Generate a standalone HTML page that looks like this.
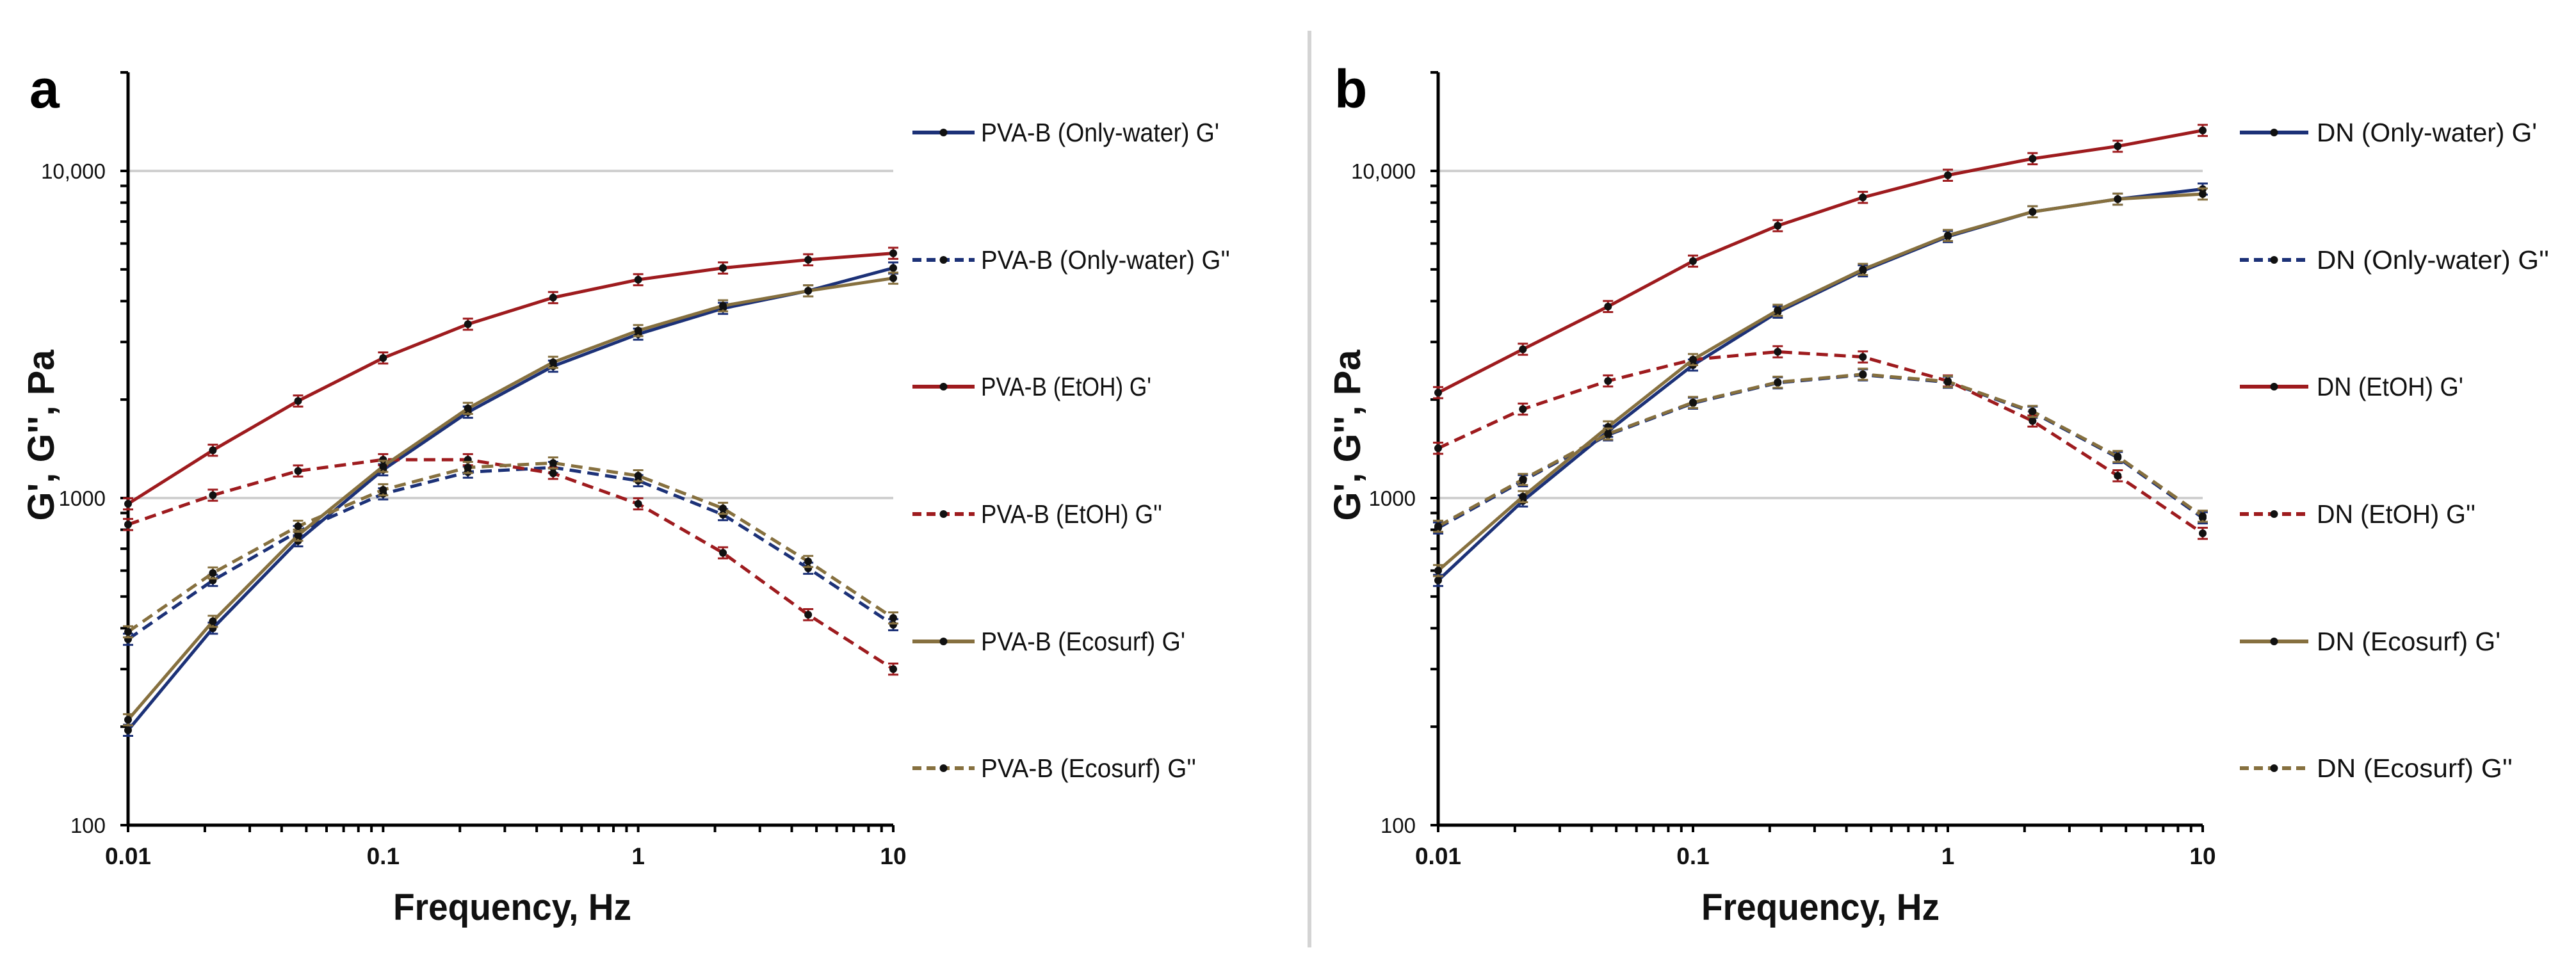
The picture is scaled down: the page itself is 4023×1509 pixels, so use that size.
<!DOCTYPE html>
<html><head><meta charset="utf-8">
<style>
html,body{margin:0;padding:0;background:#fff;}
svg{display:block;}
text{font-family:"Liberation Sans",sans-serif;}
</style></head>
<body>
<svg id="fig" width="4023" height="1509" viewBox="0 0 4023 1509" xmlns="http://www.w3.org/2000/svg">
<rect width="4023" height="1509" fill="#fff"/>
<line x1="2045" y1="48" x2="2045" y2="1480" stroke="#d4d4d4" stroke-width="6"/>
</svg>
<script>
const freqs = [0.01, 0.0215, 0.0464, 0.1, 0.215, 0.464, 1, 2.15, 4.64, 10];
const xTicks = [0.01, 0.1, 1, 10];
const xTickLabels = ["0.01", "0.1", "1", "10"];
const yTicks = [100, 1000, 10000];
const yTickLabels = ["100", "1000", "10,000"];

const aWaterGp  = [195, 400, 740, 1220, 1830, 2530, 3170, 3800, 4300, 5050];
const aWaterGpp = [370, 560, 790, 1030, 1200, 1240, 1130, 890, 610, 410];
const aEtohGp   = [960, 1400, 1980, 2680, 3400, 4100, 4650, 5050, 5350, 5600];
const aEtohGpp  = [830, 1020, 1210, 1310, 1310, 1190, 960, 680, 440, 300];
const aEcoGp    = [210, 420, 770, 1250, 1880, 2600, 3250, 3870, 4300, 4700];
const aEcoGpp   = [390, 590, 820, 1060, 1240, 1280, 1170, 930, 640, 430];

const bWaterGp  = [560, 980, 1600, 2550, 3700, 4950, 6300, 7500, 8200, 8800];
const bWaterGpp = [810, 1130, 1560, 1950, 2250, 2380, 2260, 1830, 1330, 870];
const bEtohGp   = [2100, 2850, 3850, 5300, 6800, 8300, 9700, 10900, 11900, 13300];
const bEtohGpp  = [1420, 1870, 2280, 2650, 2800, 2700, 2280, 1720, 1170, 780];
const bEcoGp    = [600, 1010, 1650, 2650, 3750, 5000, 6350, 7500, 8200, 8500];
const bEcoGpp   = [820, 1140, 1570, 1960, 2260, 2390, 2270, 1840, 1340, 880];

const aLabels = ["PVA-B (Only-water) G'", "PVA-B (Only-water) G''", "PVA-B (EtOH) G'", "PVA-B (EtOH) G''", "PVA-B (Ecosurf) G'", "PVA-B (Ecosurf) G''"];
const bLabels = ["DN (Only-water) G'", "DN (Only-water) G''", "DN (EtOH) G'", "DN (EtOH) G''", "DN (Ecosurf) G'", "DN (Ecosurf) G''"];

const NS = "http://www.w3.org/2000/svg";
const svg = document.getElementById('fig');
function mk(tag, attrs, parent) {
  const e = document.createElementNS(NS, tag);
  for (const k in attrs) e.setAttribute(k, attrs[k]);
  (parent || svg).appendChild(e);
  return e;
}
const COLORS = ["#1c3177", "#1c3177", "#9e1b1e", "#9e1b1e", "#86703f", "#86703f"];
const DASH = [null, "18 10", null, "18 10", null, "18 10"];

function drawPanel(cfg) {
  const g = mk('g', {});
  
  
  const x0 = cfg.x0, x1 = cfg.x1, yTop = 113, yBot = 1289;
  const yDec = (yBot - 267) / 2;
  const xs = v => x0 + (Math.log10(v) + 2) / 3 * (x1 - x0);
  const ys = v => yBot - (Math.log10(v) - 2) * yDec;

  // gridlines
  [1000, 10000].forEach(v => {
    const l = mk('line', {x1: x0, x2: x1, y1: ys(v), y2: ys(v), stroke: '#d0d0d0', 'stroke-width': 4}, g);
    
    
  });
  // axes
  const ya = mk('line', {x1: x0, x2: x0, y1: yTop, y2: yBot, stroke: '#000', 'stroke-width': 5}, g);
  
  
  const xa = mk('line', {x1: x0, x2: x1, y1: yBot, y2: yBot, stroke: '#000', 'stroke-width': 5}, g);
  
  
  mk('line', {x1: x0 - 12, x2: x0, y1: yTop, y2: yTop, stroke: '#000', 'stroke-width': 4}, g);
  // minor/major ticks
  for (let d = 2; d <= 4; d++) {
    for (let m = 1; m <= 9; m++) {
      const v = m * Math.pow(10, d);
      if (v > 20000) continue;
      mk('line', {x1: x0 - 12, x2: x0, y1: ys(v), y2: ys(v), stroke: '#000', 'stroke-width': 4}, g);
    }
  }
  for (let d = -2; d <= 1; d++) {
    for (let m = 1; m <= 9; m++) {
      const v = m * Math.pow(10, d);
      if (v > 10.001) continue;
      mk('line', {x1: xs(v), x2: xs(v), y1: yBot, y2: yBot + 11, stroke: '#000', 'stroke-width': 4}, g);
    }
  }
  // tick labels
  xTicks.forEach((v, i) => {
    const t = mk('text', {x: xs(v), y: 1350, 'font-size': 37, 'font-weight': 'bold', 'text-anchor': 'middle', fill: '#111'}, g);
    t.textContent = xTickLabels[i];
    
    
  });
  yTicks.forEach((v, i) => {
    const t = mk('text', {x: x0 - 35, y: ys(v) + 12, 'font-size': 33, 'text-anchor': 'end', fill: '#111'}, g);
    t.textContent = yTickLabels[i];
    
    
  });
  // titles
  const xt = mk('text', {x: cfg.xTitleX, y: 1437, 'font-size': 58, 'font-weight': 'bold', 'text-anchor': 'middle', fill: '#111', textLength: 372, lengthAdjust: 'spacingAndGlyphs'}, g);
  xt.textContent = 'Frequency, Hz';
  
  
  const yt = mk('text', {x: 0, y: 0, 'font-size': 58, 'font-weight': 'bold', 'text-anchor': 'middle', fill: '#111', transform: `translate(${cfg.yTitleX},680) rotate(-90)`}, g);
  yt.textContent = "G', G'', Pa";
  
  
  const pl = mk('text', {x: cfg.letterX, y: 168, 'font-size': 84, 'font-weight': 'bold', fill: '#000'}, g);
  pl.textContent = cfg.letter;
  
  

  // series
  cfg.series.forEach((vals, si) => {
    const sg = mk('g', {}, g);
    
    
    const pts = vals.map((v, i) => xs(freqs[i]) + ',' + ys(v)).join(' ');
    const attrs = {points: pts, fill: 'none', stroke: COLORS[si], 'stroke-width': 5, 'stroke-linejoin': 'round'};
    if (DASH[si]) attrs['stroke-dasharray'] = DASH[si];
    const pl2 = mk('polyline', attrs, sg);
    
    
    vals.forEach((v, i) => {
      const cx = xs(freqs[i]);
      const yHi = ys(v * 1.04), yLo = ys(v / 1.04);
      mk('line', {x1: cx, x2: cx, y1: yHi, y2: yLo, stroke: COLORS[si], 'stroke-width': 3}, sg);
      mk('line', {x1: cx - 8, x2: cx + 8, y1: yHi, y2: yHi, stroke: COLORS[si], 'stroke-width': 3}, sg);
      mk('line', {x1: cx - 8, x2: cx + 8, y1: yLo, y2: yLo, stroke: COLORS[si], 'stroke-width': 3}, sg);
      const p = mk('circle', {cx: cx, cy: ys(v), r: 6, fill: '#111'}, sg);
      
      
    });
  });

  // legend
  const legY = [207, 406, 604, 803, 1002, 1200];
  cfg.labels.forEach((lab, i) => {
    const lg = mk('g', {}, g);
    
    
    const la = {x1: cfg.legX0, x2: cfg.legX1, y1: legY[i], y2: legY[i], stroke: COLORS[i], 'stroke-width': 6};
    if (DASH[i]) la['stroke-dasharray'] = '14 8';
    mk('line', la, lg);
    mk('circle', {cx: (cfg.legX0 + cfg.legX1) / 2, cy: legY[i], r: 6, fill: '#111'}, lg);
    const t = mk('text', {x: cfg.legTextX, y: legY[i] + 14, 'font-size': 41, fill: '#111', textLength: Math.round(lab.length * cfg.charW), lengthAdjust: 'spacingAndGlyphs'}, lg);
    t.textContent = lab;
  });
}

drawPanel({name: 'panel-a', letter: 'a', letterX: 46, x0: 200, x1: 1395, xTitleX: 800, yTitleX: 84,
  legX0: 1425, legX1: 1522, legTextX: 1532, charW: 17.7, labels: aLabels,
  series: [aWaterGp, aWaterGpp, aEtohGp, aEtohGpp, aEcoGp, aEcoGpp]});
drawPanel({name: 'panel-b', letter: 'b', letterX: 2084, x0: 2246, x1: 3440, xTitleX: 2843, yTitleX: 2124,
  legX0: 3498, legX1: 3605, legTextX: 3618, charW: 19.1, labels: bLabels,
  series: [bWaterGp, bWaterGpp, bEtohGp, bEtohGpp, bEcoGp, bEcoGpp]});
</script>
</body></html>
